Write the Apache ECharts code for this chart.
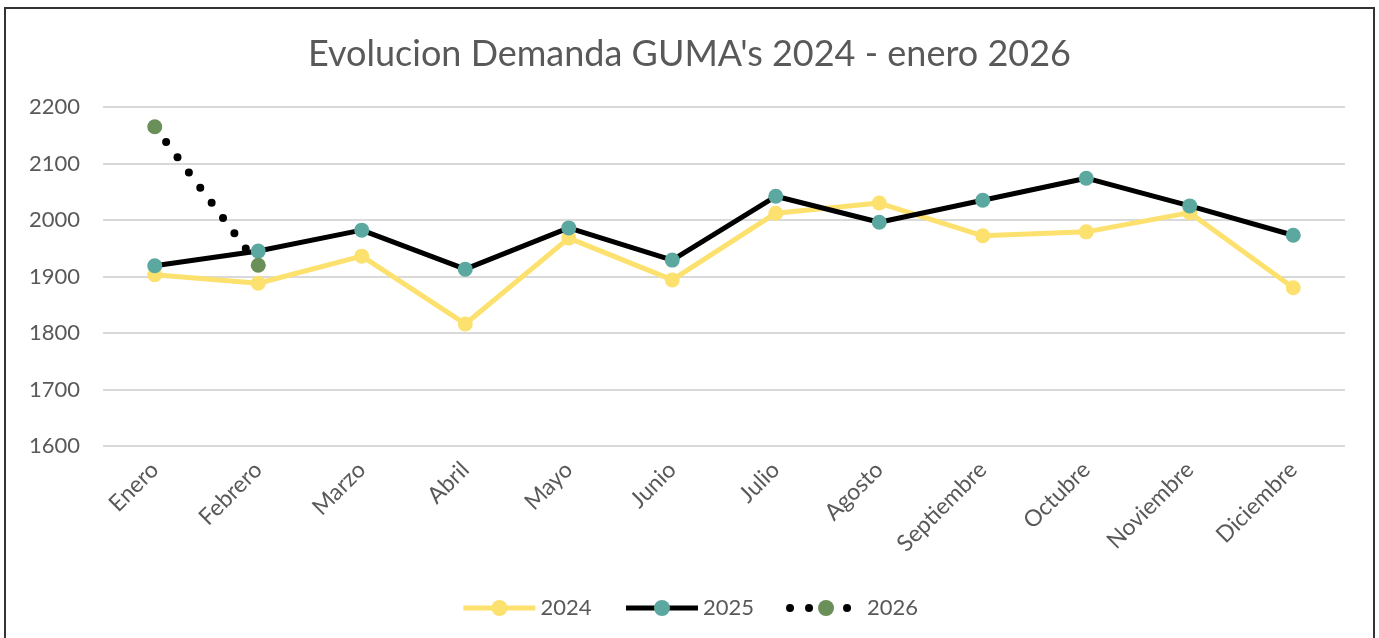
<!DOCTYPE html>
<html>
<head>
<meta charset="utf-8">
<script src="https://cdn.jsdelivr.net/npm/echarts@6/dist/echarts.min.js"></script>
<style>
  html, body { margin: 0; padding: 0; background: #fff; }
  #main { width: 1379px; height: 638px; }
</style>
</head>
<body>
<div id="main"></div>
<script>
const months = ["Enero", "Febrero", "Marzo", "Abril", "Mayo", "Junio", "Julio",
  "Agosto", "Septiembre", "Octubre", "Noviembre", "Diciembre"];
const data2024 = [1903, 1888, 1936, 1816, 1968, 1894, 2012, 2030, 1972, 1979, 2013, 1880];
const data2025 = [1919, 1945, 1982, 1913, 1986, 1929, 2042, 1996, 2035, 2074, 2025, 1973];
const data2026 = [2165, 1920, null, null, null, null, null, null, null, null, null, null];

const textColor = "#595959";
const font = "Lato";

let chart = echarts.init(document.getElementById("main"));
let option = {
  animation: false,
  textStyle: { fontFamily: font },
  title: {
    text: "Evolucion Demanda GUMA's 2024 - enero 2026",
    left: "center",
    top: 31,
    textStyle: { fontFamily: font, fontSize: 36, fontWeight: "normal", color: textColor },
  },
  graphic: [
    {
      type: "rect",
      shape: { x: 5, y: 8, width: 1369, height: 700 },
      style: { fill: "none", stroke: "#333", lineWidth: 2 },
      silent: true,
    },
  ],
  legend: {
    bottom: 14,
    left: "center",
    itemWidth: 72,
    itemHeight: 20,
    itemGap: 32,
    textStyle: { fontFamily: font, fontSize: 22, color: textColor },
    data: [
      { name: "2024", lineStyle: { width: 5 } },
      { name: "2025", lineStyle: { width: 5 } },
      { name: "2026", lineStyle: { width: 8 } },
    ],
  },
  grid: { left: 103, right: 34, top: 107, bottom: 192 },
  xAxis: {
    type: "category",
    data: months,
    axisLine: { show: false },
    axisTick: { show: false },
    axisLabel: {
      rotate: 45,
      margin: 20,
      interval: 0,
      fontFamily: font,
      fontSize: 23,
      color: textColor,
    },
  },
  yAxis: {
    type: "value",
    min: 1600,
    max: 2200,
    interval: 100,
    axisLine: { show: false },
    axisTick: { show: false },
    axisLabel: {
      margin: 23,
      fontFamily: font,
      fontSize: 22,
      color: textColor,
      formatter: (v) => String(v),
    },
    splitLine: { lineStyle: { color: "#d9d9d9", width: 2 } },
  },
  series: [
    {
      name: "2024",
      type: "line",
      data: data2024,
      symbol: "circle",
      symbolSize: 15,
      z: 2,
      itemStyle: { color: "#FDE16E" },
      lineStyle: { color: "#FDE16E", width: 5 },
    },
    {
      name: "2025",
      type: "line",
      data: data2025,
      symbol: "circle",
      symbolSize: 15,
      z: 3,
      itemStyle: { color: "#5BA8A0" },
      lineStyle: { color: "#000", width: 5 },
    },
    {
      name: "2026",
      type: "line",
      data: data2026,
      symbol: "circle",
      symbolSize: 15,
      z: 4,
      itemStyle: { color: "#6A8F58" },
      lineStyle: { color: "#000", width: 8, type: [0, 19], cap: "round" },
    },
  ],
};
chart.setOption(option);
</script>
</body>
</html>
